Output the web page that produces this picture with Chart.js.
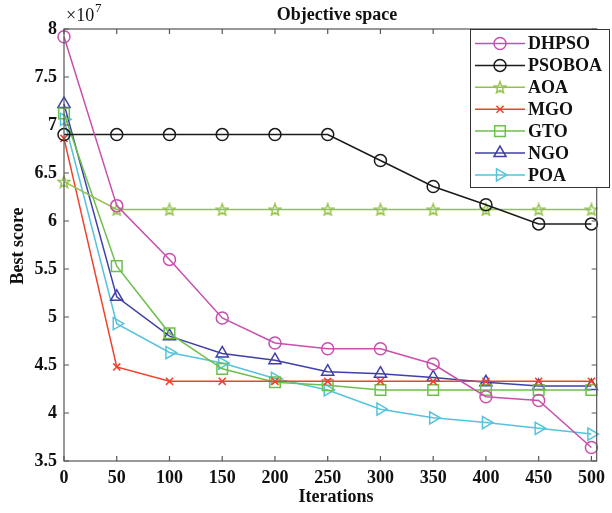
<!DOCTYPE html>
<html><head><meta charset="utf-8">
<script src="https://cdn.jsdelivr.net/npm/chart.js@4"></script>
<style>html,body{margin:0;padding:0;background:#fff}#wrap{width:612px;height:513px}</style>
</head><body><div id="wrap"><canvas id="c" width="612" height="513"></canvas></div>
<script>
const iterations = [0,50,100,150,200,250,300,350,400,450,500];
const seriesNames = ['DHPSO','PSOBOA','AOA','MGO','GTO','NGO','POA'];
const dhpso  = [7.92,6.16,5.60,4.99,4.73,4.67,4.67,4.51,4.17,4.13,3.64];
const psoboa = [6.90,6.90,6.90,6.90,6.90,6.90,6.63,6.36,6.17,5.97,5.97];
const aoa    = [6.41,6.12,6.12,6.12,6.12,6.12,6.12,6.12,6.12,6.12,6.12];
const mgo    = [6.86,4.48,4.33,4.33,4.33,4.33,4.33,4.33,4.33,4.33,4.33];
const gto    = [7.12,5.53,4.83,4.46,4.32,4.29,4.24,4.24,4.24,4.24,4.24];
const ngo    = [7.22,5.21,4.80,4.62,4.55,4.43,4.41,4.37,4.32,4.28,4.28];
const poa    = [7.06,4.93,4.63,4.52,4.36,4.24,4.04,3.95,3.90,3.84,3.78];
const yTicks = [3.5,4,4.5,5,5.5,6,6.5,7,7.5,8];
const xTicks = [0,50,100,150,200,250,300,350,400,450,500];

function starImage(color){
  const s=14, cv=document.createElement('canvas'); cv.width=s; cv.height=s;
  const g=cv.getContext('2d'); g.strokeStyle=color; g.lineWidth=1.4; g.beginPath();
  const cx=s/2, cy=s/2+0.6, R=6.2, r=2.6;
  for(let i=0;i<10;i++){const a=-Math.PI/2+i*Math.PI/5; const rr=i%2?r:R;
    const x=cx+rr*Math.cos(a), y=cy+rr*Math.sin(a); i?g.lineTo(x,y):g.moveTo(x,y);}
  g.closePath(); g.stroke(); return cv;
}
const colors = ['#c94fae','#1a1a1a','#93c24a','#f0412c','#6cc04a','#3f3fa8','#55c3de'];
const styles = [
  {pointStyle:'circle',radius:6,rotation:0},
  {pointStyle:'circle',radius:6,rotation:0},
  {pointStyle:starImage(colors[2]),radius:7,rotation:0},
  {pointStyle:'crossRot',radius:5,rotation:0},
  {pointStyle:'rect',radius:7.5,rotation:0},
  {pointStyle:'triangle',radius:7,rotation:0},
  {pointStyle:'triangle',radius:7,rotation:90}
];
const values = [dhpso,psoboa,aoa,mgo,gto,ngo,poa];
const datasets = values.map((v,i)=>({
  label: seriesNames[i],
  data: iterations.map((x,j)=>({x:x,y:v[j]})),
  borderColor: colors[i], backgroundColor:'transparent', borderWidth:1.5,
  pointStyle: styles[i].pointStyle, pointRadius: styles[i].radius, pointRotation: styles[i].rotation,
  pointBorderColor: colors[i], pointBackgroundColor:'transparent', pointBorderWidth:1.5,
  tension:0, clip:false
}));

const FONT = '"Liberation Serif","Times New Roman",serif';
const deco = {
  id:'deco',
  beforeDraw(chart){const c=chart.ctx; c.save(); c.fillStyle='#fff'; c.fillRect(0,0,chart.width,chart.height); c.restore();},
  afterDraw(chart){
    const c=chart.ctx, a=chart.chartArea, xs=chart.scales.x, ys=chart.scales.y;
    c.save();
    c.strokeStyle='#555'; c.lineWidth=1.2;
    c.strokeRect(a.left,a.top,a.right-a.left,a.bottom-a.top);
    c.beginPath();
    xTicks.forEach(t=>{const px=xs.getPixelForValue(t);
      c.moveTo(px,a.bottom); c.lineTo(px,a.bottom-5); c.moveTo(px,a.top); c.lineTo(px,a.top+5);});
    yTicks.forEach(t=>{const py=ys.getPixelForValue(t);
      c.moveTo(a.left,py); c.lineTo(a.left+5,py); c.moveTo(a.right,py); c.lineTo(a.right-5,py);});
    c.stroke();
    c.fillStyle='#111';
    c.font='bold 18px '+FONT; c.textAlign='center'; c.textBaseline='middle';
    c.fillText('Objective space',337,15);
    c.font='bold 18px '+FONT; c.fillText('Iterations',336,497);
    c.save(); c.translate(18,246); c.rotate(-Math.PI/2); c.font='bold 18px '+FONT; c.fillText('Best score',0,0); c.restore();
    c.textAlign='left'; c.font='18px '+FONT; c.fillText('\u00d710',66,16);
    c.font='13px '+FONT; c.fillText('7',95,9);
    // legend
    const lx=470, ly=a.top, lw=139, lh=158;
    c.fillStyle='#fff'; c.fillRect(lx,ly,lw,lh);
    c.strokeStyle='#333'; c.lineWidth=1; c.strokeRect(lx+0.5,ly+0.5,lw,lh);
    chart.data.datasets.forEach((d,i)=>{
      const y=43.5+i*21.9;
      c.strokeStyle=d.borderColor; c.lineWidth=1.5; c.beginPath(); c.moveTo(475,y); c.lineTo(525,y); c.stroke();
      c.fillStyle='rgba(0,0,0,0)'; c.strokeStyle=d.borderColor; c.lineWidth=1.5;
      Chart.helpers.drawPoint(c,{pointStyle:d.pointStyle,radius:d.pointRadius,rotation:d.pointRotation,borderWidth:1.5},500,y);
      c.fillStyle='#111'; c.font='bold 18px '+FONT; c.textAlign='left'; c.textBaseline='middle';
      c.fillText(d.label,528,y+1);
    });
    c.restore();
  }
};

new Chart(document.getElementById('c'),{
  type:'line',
  data:{datasets:datasets},
  options:{
    responsive:false, animation:false, devicePixelRatio:1,
    layout:{padding:{left:0,right:4,top:29,bottom:0}},
    plugins:{legend:{display:false},tooltip:{enabled:false},title:{display:false}},
    scales:{
      x:{type:'linear',min:0,max:505,
        afterBuildTicks(s){s.ticks=xTicks.map(v=>({value:v}));},
        afterFit(s){s.height=52;},
        grid:{display:false,drawTicks:false},border:{display:false},
        ticks:{padding:7,color:'#111',font:{family:FONT,size:18,weight:'bold'},maxRotation:0,autoSkip:false,
          callback:v=>String(v)}},
      y:{type:'linear',min:3.5,max:8,
        afterBuildTicks(s){s.ticks=yTicks.map(v=>({value:v}));},
        afterFit(s){s.width=64;},
        grid:{display:false,drawTicks:false},border:{display:false},
        ticks:{padding:7,color:'#111',font:{family:FONT,size:18,weight:'bold'},autoSkip:false,
          callback:v=>String(v)}}
    }
  },
  plugins:[deco]
});
</script></body></html>
